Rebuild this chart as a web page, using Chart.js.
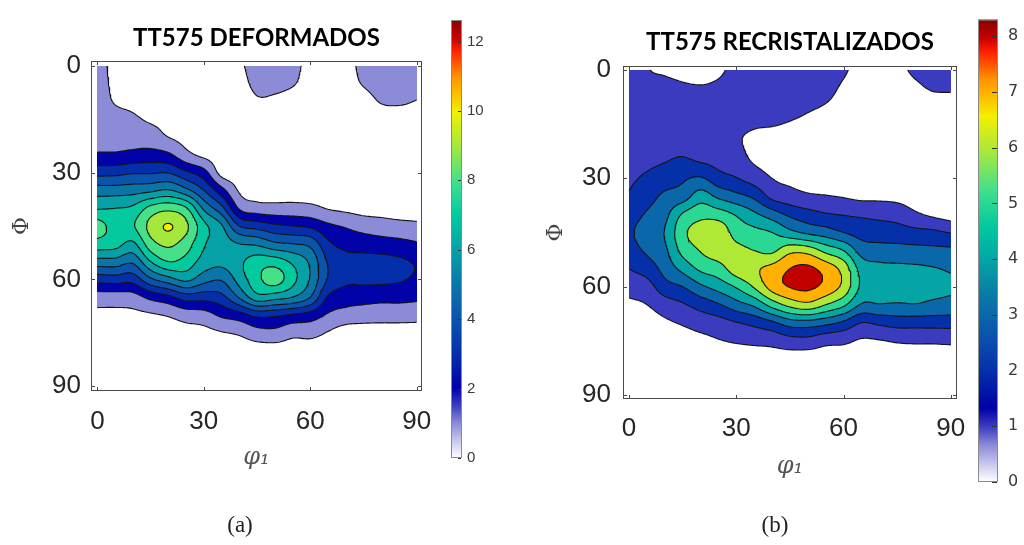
<!DOCTYPE html>
<html>
<head>
<meta charset="utf-8">
<script src="https://cdn.jsdelivr.net/npm/chart.js@4.4.1/dist/chart.umd.min.js"></script>
<style>
  html, body { margin: 0; padding: 0; background: #fff; }
  #wrap { position: relative; width: 1024px; height: 545px; overflow: hidden; }
  #wrap canvas { position: absolute; left: 0; top: 0; }
  .cap { position: absolute; top: 512px; font-family: "Liberation Serif", serif; font-size: 23px; color: #222; width: 60px; text-align: center; }
</style>
</head>
<body>
<div id="wrap">
  <canvas id="odfA" width="1024" height="545"></canvas>
  <canvas id="cbarA" width="1024" height="545"></canvas>
  <canvas id="odfB" width="1024" height="545"></canvas>
  <canvas id="cbarB" width="1024" height="545"></canvas>
  <div class="cap" style="left:210px">(a)</div>
  <div class="cap" style="left:745px">(b)</div>
</div>
<script>
// Grid nodes of the ODF section (degrees)
const phi1Grid = [0, 5, 10, 15, 20, 25, 30, 35, 40, 45, 50, 55, 60, 65, 70, 75, 80, 85, 90];
const PhiGrid  = [0, 5, 10, 15, 20, 25, 30, 35, 40, 45, 50, 55, 60, 65, 70, 75, 80, 85, 90];
const axisTicks = [0, 30, 60, 90];

// TT575 deformados: one row per φ1, values along Φ = 0..90
const odfDeformados = [
  [1.3, 1.35, 1.4, 1.5, 1.6, 2.15, 3.65, 5.5, 6.9, 8.4, 7.6, 5.6, 3.4, 1.5, 0.8, 0.5, 0.35, 0.3, 0.3],
  [0.8, 0.85, 0.95, 1.3, 1.6, 2.15, 3.7, 5.5, 7.0, 7.7, 7.4, 5.6, 3.5, 1.5, 0.8, 0.5, 0.35, 0.3, 0.3],
  [0.7, 0.75, 0.85, 1.12, 1.55, 2.3, 3.9, 5.6, 7.2, 7.9, 6.8, 5.2, 3.4, 1.6, 0.8, 0.5, 0.35, 0.3, 0.3],
  [0.6, 0.65, 0.75, 0.9, 1.45, 2.4, 3.9, 5.8, 8.3, 9.3, 8.6, 7.0, 4.8, 2.3, 0.9, 0.55, 0.4, 0.3, 0.3],
  [0.55, 0.6, 0.65, 0.8, 1.0, 2.2, 3.95, 6.1, 8.7, 10.08, 9.2, 8.0, 5.6, 2.75, 1.1, 0.6, 0.4, 0.3, 0.3],
  [0.5, 0.55, 0.6, 0.7, 0.75, 1.3, 3.2, 5.3, 8.1, 9.2, 8.5, 7.6, 6.25, 3.5, 1.45, 0.7, 0.45, 0.35, 0.3],
  [0.45, 0.5, 0.5, 0.6, 0.7, 0.8, 2.4, 4.0, 5.8, 7.3, 7.1, 6.6, 5.4, 3.4, 1.6, 0.75, 0.45, 0.35, 0.3],
  [0.45, 0.45, 0.5, 0.55, 0.6, 0.65, 0.7, 2.4, 4.3, 6.1, 6.5, 6.3, 5.1, 3.7, 2.2, 0.95, 0.5, 0.35, 0.3],
  [0.85, 0.7, 0.5, 0.45, 0.5, 0.55, 0.65, 0.9, 1.9, 4.0, 6.0, 6.8, 6.4, 5.1, 2.6, 1.15, 0.55, 0.4, 0.3],
  [1.35, 1.2, 0.9, 0.6, 0.5, 0.5, 0.5, 0.55, 1.45, 3.6, 5.8, 7.5, 7.7, 6.6, 3.3, 1.6, 0.6, 0.4, 0.3],
  [1.4, 1.2, 0.85, 0.55, 0.5, 0.5, 0.5, 0.55, 1.35, 3.2, 5.2, 7.5, 8.45, 6.4, 3.2, 1.7, 0.6, 0.4, 0.3],
  [1.15, 1.05, 0.7, 0.5, 0.45, 0.45, 0.45, 0.55, 1.35, 3.0, 5.0, 6.8, 7.3, 6.0, 2.9, 1.3, 0.6, 0.4, 0.3],
  [0.85, 0.75, 0.55, 0.45, 0.4, 0.4, 0.45, 0.55, 1.25, 2.8, 4.7, 5.8, 5.9, 5.0, 2.6, 1.3, 0.6, 0.4, 0.3],
  [0.6, 0.55, 0.45, 0.4, 0.4, 0.4, 0.45, 0.6, 0.95, 2.2, 3.2, 3.9, 3.9, 2.9, 1.9, 0.95, 0.55, 0.4, 0.3],
  [0.75, 0.7, 0.55, 0.4, 0.35, 0.35, 0.4, 0.5, 0.8, 1.9, 2.7, 3.3, 3.2, 2.5, 1.6, 0.6, 0.5, 0.35, 0.3],
  [1.2, 1.05, 0.7, 0.45, 0.35, 0.35, 0.35, 0.45, 0.65, 1.6, 2.55, 3.3, 3.2, 2.4, 1.45, 0.6, 0.45, 0.35, 0.3],
  [1.45, 1.3, 1.05, 0.6, 0.4, 0.35, 0.35, 0.4, 0.6, 1.45, 2.4, 3.3, 3.2, 2.3, 1.4, 0.6, 0.45, 0.35, 0.3],
  [1.5, 1.35, 1.1, 0.6, 0.4, 0.35, 0.35, 0.4, 0.55, 1.3, 2.3, 3.15, 3.1, 2.3, 1.4, 0.6, 0.45, 0.35, 0.3],
  [1.45, 1.3, 0.97, 0.6, 0.4, 0.35, 0.35, 0.4, 0.55, 1.2, 2.1, 2.9, 2.85, 2.2, 1.35, 0.6, 0.45, 0.35, 0.3]
];

// TT575 recristalizados: one row per φ1, values along Φ = 0..90
const odfRecristalizados = [
  [1.6, 1.6, 1.6, 1.6, 1.65, 1.7, 1.85, 2.1, 2.6, 2.85, 2.6, 2.0, 1.4, 0.8, 0.5, 0.35, 0.3, 0.25, 0.25],
  [1.05, 1.25, 1.45, 1.55, 1.65, 1.8, 2.15, 2.6, 3.1, 3.4, 3.15, 2.45, 1.6, 1.0, 0.6, 0.4, 0.3, 0.25, 0.25],
  [0.9, 1.2, 1.45, 1.6, 1.75, 1.95, 2.5, 3.2, 3.7, 4.05, 3.8, 3.35, 2.6, 1.5, 0.85, 0.5, 0.35, 0.25, 0.25],
  [0.8, 1.1, 1.4, 1.6, 1.75, 2.1, 2.85, 3.5, 5.1, 5.75, 5.3, 4.3, 3.0, 1.9, 1.1, 0.6, 0.4, 0.3, 0.25],
  [0.75, 1.05, 1.3, 1.5, 1.65, 1.9, 3.1, 4.5, 5.7, 6.4, 6.05, 5.2, 3.8, 2.4, 1.4, 0.75, 0.45, 0.3, 0.25],
  [0.9, 1.1, 1.25, 1.35, 1.5, 1.7, 2.4, 3.8, 5.5, 6.7, 6.5, 5.6, 4.4, 2.9, 1.6, 0.95, 0.5, 0.3, 0.25],
  [1.15, 1.2, 1.2, 1.15, 1.1, 1.4, 2.05, 3.3, 4.9, 5.6, 6.3, 6.5, 5.1, 3.6, 1.95, 1.1, 0.55, 0.35, 0.25],
  [1.15, 1.15, 1.05, 1.05, 0.85, 0.9, 1.55, 2.8, 4.2, 5.3, 6.0, 6.85, 6.1, 4.2, 2.3, 1.2, 0.6, 0.35, 0.25],
  [1.2, 1.15, 1.1, 1.03, 0.75, 0.7, 1.0, 1.75, 3.5, 5.0, 5.8, 7.3, 7.4, 5.4, 2.8, 1.3, 0.65, 0.35, 0.25],
  [1.2, 1.15, 1.1, 0.97, 0.7, 0.65, 0.8, 1.4, 2.8, 4.3, 6.7, 8.0, 8.05, 6.3, 3.5, 1.6, 0.6, 0.4, 0.25],
  [1.2, 1.15, 1.05, 0.9, 0.7, 0.6, 0.65, 1.15, 2.4, 3.8, 6.6, 8.2, 8.2, 6.7, 3.6, 1.65, 0.55, 0.4, 0.25],
  [1.15, 1.1, 0.98, 0.8, 0.65, 0.6, 0.6, 1.05, 2.1, 3.5, 5.7, 7.6, 7.7, 6.0, 3.3, 1.3, 0.6, 0.35, 0.25],
  [1.05, 0.95, 0.85, 0.7, 0.6, 0.55, 0.6, 0.95, 1.95, 3.0, 5.0, 6.6, 6.7, 5.2, 2.8, 1.2, 0.6, 0.35, 0.25],
  [0.85, 0.8, 0.7, 0.6, 0.55, 0.5, 0.55, 0.8, 1.85, 2.6, 3.6, 4.6, 4.8, 3.9, 2.0, 0.9, 0.5, 0.3, 0.25],
  [0.75, 0.72, 0.65, 0.6, 0.55, 0.5, 0.55, 0.8, 1.75, 2.5, 3.4, 4.25, 4.35, 3.95, 2.2, 0.95, 0.5, 0.3, 0.25],
  [0.85, 0.75, 0.65, 0.6, 0.55, 0.5, 0.55, 0.75, 1.6, 2.45, 3.35, 4.2, 4.35, 3.9, 2.4, 1.1, 0.5, 0.3, 0.25],
  [1.1, 0.9, 0.7, 0.6, 0.55, 0.5, 0.5, 0.6, 1.15, 2.3, 3.3, 4.15, 4.3, 3.95, 2.4, 1.15, 0.5, 0.3, 0.25],
  [1.2, 1.05, 0.75, 0.6, 0.55, 0.5, 0.5, 0.55, 0.85, 2.2, 3.25, 4.05, 4.2, 3.8, 2.4, 1.15, 0.5, 0.3, 0.25],
  [1.2, 1.07, 0.75, 0.6, 0.55, 0.5, 0.5, 0.5, 0.6, 1.95, 3.2, 3.9, 4.1, 3.7, 2.4, 1.2, 0.5, 0.3, 0.25]
];

// contour levels and colorbar ranges
const levelsDeformados = [1, 2, 3, 4, 5, 6, 7, 8, 9, 10, 11, 12];
const levelsRecristalizados = [1, 2, 3, 4, 5, 6, 7, 8];
const cbarMaxA = 12.62;
const cbarMaxB = 8.3;
const cbarTicksA = [0, 2, 4, 6, 8, 10, 12];
const cbarTicksB = [0, 1, 2, 3, 4, 5, 6, 7, 8];

// white-to-jet colormap (normalized position, colour)
const cmapPos = [0, 0.04, 0.08, 0.12, 0.16, 0.24, 0.32, 0.40, 0.48, 0.55, 0.63, 0.71, 0.79, 0.84, 0.87, 0.93, 0.96, 1];
const cmapHex = ["#ffffff", "#c6c6ee", "#8a8ad8", "#3c3cc0", "#0000a8", "#0530aa", "#0a55ad", "#0a78a8",
                 "#05a4a6", "#00c8a0", "#40e08c", "#a2e840", "#f2f000", "#ffb400", "#ff9400", "#ff2000", "#c80000", "#880000"];

const cmapRgb = cmapHex.map(h => [1, 3, 5].map(k => parseInt(h.substr(k, 2), 16)));

function cmap(t) {
    t = Math.max(0, Math.min(1, t));
    let k = 1;
    while (k < cmapPos.length - 1 && cmapPos[k] < t) k++;
    const f = (t - cmapPos[k - 1]) / (cmapPos[k] - cmapPos[k - 1]);
    return cmapRgb[k].map((c, i) => Math.round(cmapRgb[k - 1][i] + (c - cmapRgb[k - 1][i]) * f));
}

// Catmull-Rom surface through the 5° grid
function makeSampler(grid) {
    const n = grid.length, m = grid[0].length;
    const step = phi1Grid[1] - phi1Grid[0];
    function g(i, j) {
        if (i < 0) return 2 * g(0, j) - g(1, j);
        if (i >= n) return 2 * g(n - 1, j) - g(n - 2, j);
        if (j < 0) return 2 * g(i, 0) - g(i, 1);
        if (j >= m) return 2 * g(i, m - 1) - g(i, m - 2);
        return grid[i][j];
    }
    function w(t) {
        const t2 = t * t, t3 = t2 * t;
        return [(-t3 + 2 * t2 - t) / 2, (3 * t3 - 5 * t2 + 2) / 2, (-3 * t3 + 4 * t2 + t) / 2, (t3 - t2) / 2];
    }
    return function(a, b) {
        const u = a / step, v = b / step;
        const i = Math.max(0, Math.min(Math.floor(u), n - 2));
        const j = Math.max(0, Math.min(Math.floor(v), m - 2));
        const wu = w(u - i), wv = w(v - j);
        let s = 0;
        for (let p = 0; p < 4; p++) {
            let r = 0;
            for (let q = 0; q < 4; q++) r += wv[q] * g(i - 1 + p, j - 1 + q);
            s += wu[p] * r;
        }
        return s;
    };
}

// Marching squares on a 0.5° mesh, segments chained into polylines
function traceContours(sample, levels) {
    const h = 0.5, n = Math.round(90 / h) + 1;
    const val = new Float64Array(n * n);
    for (let j = 0; j < n; j++)
        for (let i = 0; i < n; i++) val[i + j * n] = sample(i * h, j * h);

    return levels.map(L => {
        const pts = new Map(), adj = new Map();
        const H = (i, j) => (i + j * n) * 2, V = (i, j) => (i + j * n) * 2 + 1;
        function point(id) {
            if (pts.has(id)) return;
            const vert = id & 1, base = id >> 1, i = base % n, j = (base - i) / n;
            const v1 = val[base], v2 = vert ? val[base + n] : val[base + 1];
            const t = (L - v1) / (v2 - v1);
            pts.set(id, vert ? {x: i * h, y: (j + t) * h} : {x: (i + t) * h, y: j * h});
        }
        function link(a, b) {
            point(a); point(b);
            if (!adj.has(a)) adj.set(a, []);
            if (!adj.has(b)) adj.set(b, []);
            adj.get(a).push(b); adj.get(b).push(a);
        }
        for (let j = 0; j < n - 1; j++) {
            for (let i = 0; i < n - 1; i++) {
                const va = val[i + j * n], vb = val[i + 1 + j * n];
                const vc = val[i + 1 + (j + 1) * n], vd = val[i + (j + 1) * n];
                const c = (va >= L ? 1 : 0) | (vb >= L ? 2 : 0) | (vc >= L ? 4 : 0) | (vd >= L ? 8 : 0);
                if (c === 0 || c === 15) continue;
                const e0 = H(i, j), e1 = V(i + 1, j), e2 = H(i, j + 1), e3 = V(i, j);
                const mid = (va + vb + vc + vd) / 4 >= L;
                switch (c) {
                    case 1: case 14: link(e3, e0); break;
                    case 2: case 13: link(e0, e1); break;
                    case 3: case 12: link(e3, e1); break;
                    case 4: case 11: link(e1, e2); break;
                    case 6: case 9: link(e0, e2); break;
                    case 7: case 8: link(e3, e2); break;
                    case 5:
                        if (mid) { link(e0, e1); link(e2, e3); } else { link(e3, e0); link(e1, e2); }
                        break;
                    case 10:
                        if (mid) { link(e3, e0); link(e1, e2); } else { link(e0, e1); link(e2, e3); }
                        break;
                }
            }
        }
        const visited = new Set(), lines = [];
        function walk(start) {
            const line = [pts.get(start)];
            visited.add(start);
            let prev = -1, cur = start;
            for (;;) {
                const nb = adj.get(cur);
                let next = -1;
                for (const c of nb) if (c !== prev && !visited.has(c)) { next = c; break; }
                if (next < 0) {
                    if (line.length > 2 && nb.includes(start)) line.push(pts.get(start));
                    break;
                }
                line.push(pts.get(next));
                visited.add(next);
                prev = cur; cur = next;
            }
            return line;
        }
        for (const [id, nb] of adj) if (nb.length === 1 && !visited.has(id)) lines.push(walk(id));
        for (const id of adj.keys()) if (!visited.has(id)) lines.push(walk(id));

        const data = [];
        lines.forEach(l => { data.push(...l, {x: NaN, y: NaN}); });
        return data;
    });
}

// Filled bands painted pixel by pixel through the chart scales
function bandFillPlugin(sample, levels, cbMax) {
    const bandRgb = [[255, 255, 255]].concat(levels.map(v => cmap(v / cbMax)));
    return {
        id: "bandFill",
        beforeDatasetsDraw(chart) {
            const {ctx, scales: {x, y}} = chart;
            const x0 = Math.round(x.getPixelForValue(0)), x1 = Math.round(x.getPixelForValue(90));
            const y0 = Math.round(y.getPixelForValue(0)), y1 = Math.round(y.getPixelForValue(90));
            const w = x1 - x0, hgt = y1 - y0;
            const img = ctx.createImageData(w, hgt);
            const clamp = v => Math.max(0, Math.min(90, v));
            for (let py = 0; py < hgt; py++) {
                const b = clamp(y.getValueForPixel(y0 + py + 0.5));
                for (let px = 0; px < w; px++) {
                    const a = clamp(x.getValueForPixel(x0 + px + 0.5));
                    const v = sample(a, b);
                    let k = 0;
                    while (k < levels.length && v >= levels[k]) k++;
                    const c = bandRgb[k], o = (py * w + px) * 4;
                    img.data[o] = c[0]; img.data[o + 1] = c[1]; img.data[o + 2] = c[2]; img.data[o + 3] = 255;
                }
            }
            const off = document.createElement("canvas");
            off.width = w; off.height = hgt;
            off.getContext("2d").putImageData(img, 0, 0);
            ctx.drawImage(off, x0, y0);
        }
    };
}

// Box with inward ticks, and the bold panel title
function framePlugin(title, titleY) {
    return {
        id: "odfFrame",
        afterDatasetsDraw(chart) {
            const {ctx, chartArea: a, scales: {x, y}} = chart;
            ctx.save();
            ctx.strokeStyle = "#4a4a4a";
            ctx.lineWidth = 1;
            ctx.strokeRect(a.left + 0.5, a.top + 0.5, a.right - a.left - 1, a.bottom - a.top - 1);
            ctx.beginPath();
            axisTicks.forEach(v => {
                const px = Math.round(x.getPixelForValue(v)) + 0.5;
                const py = Math.round(y.getPixelForValue(v)) + 0.5;
                ctx.moveTo(px, a.bottom); ctx.lineTo(px, a.bottom - 4);
                ctx.moveTo(px, a.top); ctx.lineTo(px, a.top + 4);
                ctx.moveTo(a.left, py); ctx.lineTo(a.left + 4, py);
                ctx.moveTo(a.right, py); ctx.lineTo(a.right - 4, py);
            });
            ctx.stroke();
            ctx.fillStyle = "#000";
            ctx.font = "bold 24px Lato";
            ctx.textAlign = "center";
            ctx.textBaseline = "alphabetic";
            ctx.fillText(title, (a.left + a.right) / 2, titleY);
            ctx.restore();
        }
    };
}

function odfChart(canvasId, grid, levels, cbMax, cfg) {
    const sample = makeSampler(grid);
    const lines = traceContours(sample, levels);
    const tickFont = {family: "Liberation Sans", size: 26};
    return new Chart(document.getElementById(canvasId), {
        type: "scatter",
        data: {
            datasets: lines.map((data, k) => ({
                label: "nivel " + levels[k],
                data: data,
                showLine: true,
                borderColor: "#151515",
                borderWidth: 1.1,
                pointRadius: 0,
                pointHitRadius: 0,
                tension: 0,
                spanGaps: false
            }))
        },
        options: {
            responsive: false,
            devicePixelRatio: 1,
            animation: false,
            events: [],
            parsing: false,
            normalized: true,
            layout: {padding: cfg.padding},
            plugins: {legend: {display: false}, tooltip: {enabled: false}},
            scales: {
                x: {
                    type: "linear",
                    position: "bottom",
                    min: cfg.xRange[0],
                    max: cfg.xRange[1],
                    grid: {display: false, drawTicks: false},
                    border: {display: false},
                    afterBuildTicks: s => { s.ticks = axisTicks.map(v => ({value: v})); },
                    afterFit: s => { s.height = cfg.xAxisHeight; },
                    ticks: {font: tickFont, color: "#262626", padding: cfg.xTickPad, maxRotation: 0},
                    title: {
                        display: true,
                        text: "φ₁",
                        color: "#555",
                        font: {family: "DejaVu Serif", style: "italic", size: 24, lineHeight: 1},
                        padding: {top: 0, bottom: cfg.xTitlePad}
                    }
                },
                y: {
                    type: "linear",
                    position: "left",
                    reverse: true,
                    min: cfg.yRange[0],
                    max: cfg.yRange[1],
                    grid: {display: false, drawTicks: false},
                    border: {display: false},
                    afterBuildTicks: s => { s.ticks = axisTicks.map(v => ({value: v})); },
                    afterFit: s => { s.width = 91; },
                    ticks: {font: tickFont, color: "#262626", padding: cfg.yTickPad},
                    title: {
                        display: true,
                        text: "Φ",
                        color: "#444",
                        font: {family: "DejaVu Serif", size: 22, lineHeight: 1},
                        padding: {top: cfg.yTitlePad, bottom: 0}
                    }
                }
            }
        },
        plugins: [bandFillPlugin(sample, levels, cbMax), framePlugin(cfg.title, cfg.titleY)]
    });
}

function colorbarChart(canvasId, cbMax, ticks, cfg) {
    return new Chart(document.getElementById(canvasId), {
        type: "bar",
        data: {
            labels: [""],
            datasets: [{
                data: [[0, cbMax]],
                borderWidth: 0,
                barPercentage: 1,
                categoryPercentage: 1,
                backgroundColor: (context) => {
                    const {chart} = context;
                    if (!chart.chartArea) return null;
                    const y = chart.scales.y;
                    const g = chart.ctx.createLinearGradient(0, y.getPixelForValue(0), 0, y.getPixelForValue(cbMax));
                    cmapPos.forEach((p, k) => g.addColorStop(p, cmapHex[k]));
                    return g;
                }
            }]
        },
        options: {
            responsive: false,
            devicePixelRatio: 1,
            animation: false,
            events: [],
            layout: {padding: cfg.padding},
            plugins: {legend: {display: false}, tooltip: {enabled: false}},
            scales: {
                x: {display: false},
                y: {
                    position: "right",
                    min: 0,
                    max: cbMax,
                    grid: {display: false, drawTicks: false},
                    border: {display: false},
                    afterBuildTicks: s => { s.ticks = ticks.map(v => ({value: v})); },
                    afterFit: s => { s.width = cfg.axisWidth; },
                    ticks: {font: cfg.font, color: "#3a3a3a", padding: cfg.tickPad}
                }
            }
        },
        plugins: [{
            id: "cbarBox",
            afterDatasetsDraw(chart) {
                const {ctx, chartArea: a, scales: {y}} = chart;
                ctx.save();
                ctx.strokeStyle = "#8a8a8a";
                ctx.lineWidth = 1;
                ctx.strokeRect(a.left + 0.5, a.top + 0.5, a.right - a.left - 1, a.bottom - a.top - 1);
                ctx.strokeStyle = "#333";
                ctx.beginPath();
                ticks.forEach(v => {
                    const py = Math.round(y.getPixelForValue(v)) + 0.5;
                    ctx.moveTo(a.right - 1, py); ctx.lineTo(a.right - 1 - cfg.tickLen, py);
                });
                ctx.stroke();
                ctx.restore();
            }
        }]
    });
}

odfChart("odfA", odfDeformados, levelsDeformados, cbarMaxA, {
    title: "TT575 DEFORMADOS", titleY: 46,
    padding: {left: 0, top: 61, right: 602, bottom: 74},
    xRange: [-1.8, 91.5], yRange: [-1.4, 91.4],
    xAxisHeight: 80, xTickPad: 15, yTickPad: 10, xTitlePad: 1, yTitlePad: 11
});

odfChart("odfB", odfRecristalizados, levelsRecristalizados, cbarMaxB, {
    title: "TT575 RECRISTALIZADOS", titleY: 50,
    padding: {left: 532, top: 66, right: 67, bottom: 66},
    xRange: [-1.7, 91.75], yRange: [-1.1, 91.1],
    xAxisHeight: 80, xTickPad: 14, yTickPad: 12, xTitlePad: 0, yTitlePad: 13
});

colorbarChart("cbarA", cbarMaxA, cbarTicksA, {
    padding: {left: 451, top: 20, right: 522, bottom: 87},
    axisWidth: 40, tickPad: 5, tickLen: 3,
    font: {family: "Liberation Sans", size: 15}
});

colorbarChart("cbarB", cbarMaxB, cbarTicksB, {
    padding: {left: 978, top: 11, right: 0, bottom: 63},
    axisWidth: 26, tickPad: 10, tickLen: 5,
    font: {family: "DejaVu Sans", size: 16}
});
</script>
</body>
</html>
